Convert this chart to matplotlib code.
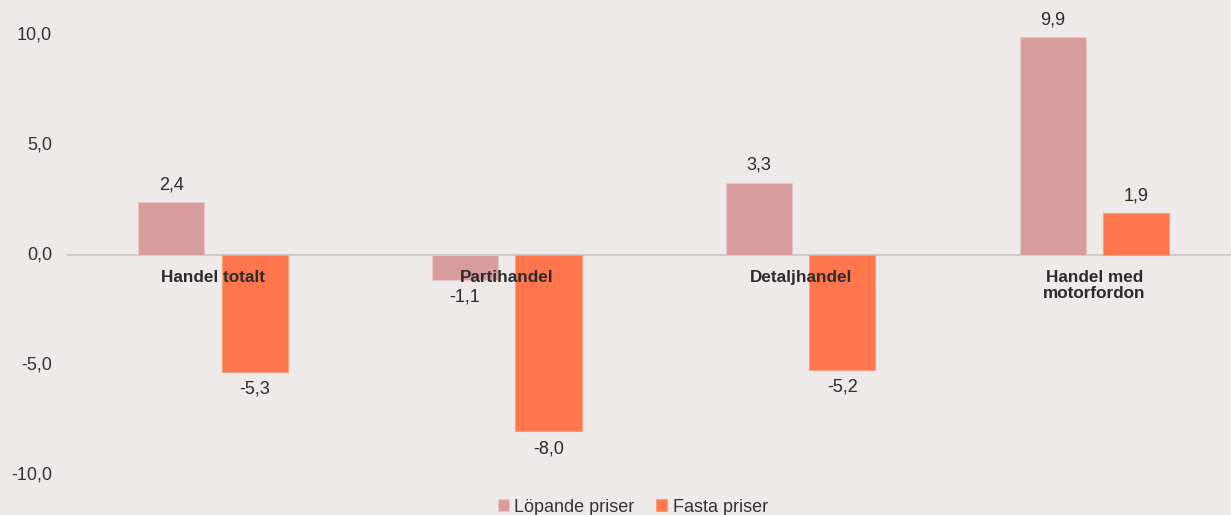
import matplotlib
matplotlib.use("Agg")
import matplotlib.pyplot as plt
import numpy as np

categories = ["Handel totalt", "Partihandel", "Detaljhandel", "Handel med\nmotorfordon"]
lopande = [2.4, -1.1, 3.3, 9.9]
fasta = [-5.3, -8.0, -5.2, 1.9]
series_names = ["Löpande priser", "Fasta priser"]
yticks = [-10, -5, 0, 5, 10]

BG = "#efeaea"
C_LOP = "#d89c9c"
C_FAS = "#ff764d"
FS = 13

plt.rcParams["font.family"] = ["Liberation Sans", "DejaVu Sans"]

fig = plt.figure(figsize=(12.31, 5.15), dpi=100, facecolor=BG)
ax = fig.add_axes([67 / 1231, 0, 1 - 67 / 1231, 1], facecolor=BG)

x = np.arange(len(categories))
w = 0.225
off = 0.142
b1 = ax.bar(x - off, lopande, w, color=C_LOP, edgecolor="#e6c6c6", linewidth=0.8,
            label=series_names[0], zorder=2)
b2 = ax.bar(x + off, fasta, w, color=C_FAS, edgecolor="#f7a080", linewidth=0.8,
            label=series_names[1], zorder=2)

ax.axhline(0, color="#c9c5c5", linewidth=1.2, zorder=1)

def fmt(v):
    return f"{v:.1f}".replace(".", ",")

for bars, vals in ((b1, lopande), (b2, fasta)):
    for rect, v in zip(bars, vals):
        cx = rect.get_x() + rect.get_width() / 2
        if v >= 0:
            ax.text(cx, v + 0.4, fmt(v), ha="center", va="bottom", fontsize=FS,
                    color="#2a2a2a", zorder=4)
        else:
            ax.text(cx, v - 0.4, fmt(v), ha="center", va="top", fontsize=FS,
                    color="#2a2a2a", zorder=4)

for xi, name in zip(x, categories):
    ax.text(xi, -0.65, name, ha="center", va="top", fontsize=12.3, fontweight="bold",
            color="#2b2b2b", zorder=5, linespacing=1.1)

ax.set_xlim(-0.497, 3.465)
ax.set_ylim(-11.8, 11.6)
ax.set_xticks([])
ax.set_yticks([])
for s in ax.spines.values():
    s.set_visible(False)

# y tick labels sit left of the plot area
for t in yticks:
    ax.text(-0.5 - 14 / 293.7, t, fmt(t), ha="right", va="center", fontsize=FS,
            color="#333333", clip_on=False)

leg = fig.legend(handles=[b1, b2], loc="center", bbox_to_anchor=(633 / 1231, 1 - 507 / 515),
                 ncol=2, frameon=False, fontsize=FS, handlelength=0.6, handleheight=0.6,
                 handletextpad=0.3, columnspacing=1.2, labelcolor="#333333")

fig.savefig("out.png", dpi=100, facecolor=BG)
